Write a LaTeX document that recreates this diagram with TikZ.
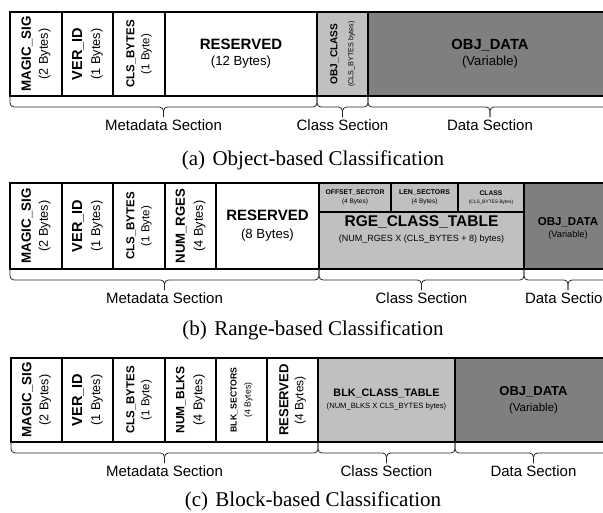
\documentclass[tikz,border=0pt]{standalone}
\usepackage{fontspec}
\setmainfont{Liberation Serif}
\setsansfont{Liberation Sans}
\usetikzlibrary{calc}
\definecolor{clsgray}{HTML}{C0C0C0}
\definecolor{datgray}{HTML}{7F7F7F}
\newcommand\fsz[2]{\fontsize{#1}{#2}\selectfont}
\tikzset{
  fld/.style={draw=black, line width=1.2pt, inner sep=0pt, outer sep=0pt, anchor=north west},
  vt/.style={rotate=90, align=center, font=\sffamily\fsz{12}{#1}, inner sep=0pt},
  ht/.style={align=center, font=\sffamily\fsz{12}{#1}, inner sep=0pt},
  brc/.style={draw=black!85, line width=0.8pt, rounded corners=4pt},
  seclabel/.style={anchor=base, font=\sffamily\fsz{15}{18}, inner sep=0pt},
  captext/.style={anchor=base, font=\rmfamily\fsz{21}{24}, inner sep=0pt}
}
% box: name, x1, x2, y1, y2, fill
\newcommand\fld[6]{\node[fld, fill=#6, minimum width={(#3-#2)*1pt}, minimum height={(#5-#4)*1pt}] (#1) at (#2,#4) {};}
% two-line text: bold size, bold text, regular size, regular text
\newcommand\tl[4]{{\fsz{#1}{#1}\bfseries #2}\\{\fsz{#3}{#3}#4}}
% brace: start, end, label name, label text
\newcommand\sbrace[4]{%
  \draw[brc] (#1) -- ++(0,11) -- ($(#1)!.5!(#2)+(0,11)$) -- ($(#1)!.5!(#2)+(0,21)$);
  \draw[brc] (#2) -- ++(0,11) -- ($(#1)!.5!(#2)+(0,11)$) -- ($(#1)!.5!(#2)+(0,21)$);
  \node[seclabel] (#3) at ($(#1)!.5!(#2)+(0,34)$) {#4};}
\begin{document}
\begin{tikzpicture}[x=1pt,y=-1pt]
\useasboundingbox (0,0) rectangle (603,512);
\clip (0,0) rectangle (603,512);
% ---------------- (a) ----------------
\fld{a1}{10}{62}{12}{96}{white}
\fld{a2}{62}{113}{12}{96}{white}
\fld{a3}{113}{165}{12}{96}{white}
\fld{a4}{165}{317}{12}{96}{white}
\fld{a5}{317}{368}{12}{96}{clsgray}
\fld{a6}{368}{612}{12}{96}{datgray}
\node[vt=17] (a1t) at (a1.center) {\tl{13.4}{MAGIC\_SIG}{12.7}{(2 Bytes)}};
\node[vt=18] (a2t) at (a2.center) {\tl{14.5}{VER\_ID}{12.7}{(1 Bytes)}};
\node[vt=15] (a3t) at (a3.center) {\tl{11.5}{CLS\_BYTES}{11.5}{(1 Byte)}};
\node[ht=16] (a4t) at (a4.center) {\tl{15}{RESERVED}{13.2}{(12 Bytes)}};
\node[vt=16] (a5t) at (a5.center) {\tl{10.1}{OBJ\_CLASS}{7.2}{(CLS\_BYTES bytes)}};
\node[ht=16] (a6t) at (a6.center) {\tl{14.7}{OBJ\_DATA}{13.1}{(Variable)}};
\sbrace{a1.south west}{a4.south east}{a7}{Metadata Section}
\sbrace{a5.south west}{a5.south east}{a8}{Class Section}
\sbrace{a6.south west}{a6.south east}{a9}{Data Section}
\node[captext] (capa) at (313,165) {(a)\hspace{0.35em}Object-based Classification};
% ---------------- (b) ----------------
\fld{b1}{10}{62}{183}{269}{white}
\fld{b2}{62}{113}{183}{269}{white}
\fld{b3}{113}{165}{183}{269}{white}
\fld{b4}{165}{216}{183}{269}{white}
\fld{b5}{216}{319}{183}{269}{white}
\fld{b6}{319}{524}{183}{269}{clsgray}
\fld{b6a}{319}{391}{183}{212}{clsgray}
\fld{b6b}{391}{458}{183}{212}{clsgray}
\fld{b6c}{458}{524}{183}{212}{clsgray}
\fld{b7}{524}{612}{183}{269}{datgray}
\node[vt=17] (b1t) at (b1.center) {\tl{13.4}{MAGIC\_SIG}{12.7}{(2 Bytes)}};
\node[vt=18] (b2t) at (b2.center) {\tl{14.5}{VER\_ID}{12.7}{(1 Bytes)}};
\node[vt=15] (b3t) at (b3.center) {\tl{11.5}{CLS\_BYTES}{11.5}{(1 Byte)}};
\node[vt=18] (b4t) at (b4.center) {\tl{13.2}{NUM\_RGES}{12.7}{(4 Bytes)}};
\node[ht=18] (b5t) at (b5.center) {\tl{15}{RESERVED}{13.2}{(8 Bytes)}};
\node[ht=9] (b6at) at (b6a.center) {\tl{6.8}{OFFSET\_SECTOR}{6.5}{(4 Bytes)}};
\node[ht=9] (b6bt) at (b6b.center) {\tl{6.9}{LEN\_SECTORS}{6.5}{(4 Bytes)}};
\node[ht=8] (b6ct) at (b6c.center) {\tl{6.7}{CLASS}{4.8}{(CLS\_BYTES Bytes)}};
\node[ht=15] (b6t) at (421.5,229.5) {\tl{15.5}{RGE\_CLASS\_TABLE}{9}{(NUM\_RGES X (CLS\_BYTES + 8) bytes)}};
\node[ht=12] (b7t) at (568,228) {\tl{11.5}{OBJ\_DATA}{9.2}{(Variable)}};
\sbrace{b1.south west}{b5.south east}{b8}{Metadata Section}
\sbrace{b6.south west}{b6.south east}{b9}{Class Section}
\sbrace{b7.south west}{b7.south east}{b10}{Data Section}
\node[captext] (capb) at (313,335) {(b)\hspace{0.35em}Range-based Classification};
% ---------------- (c) ----------------
\fld{c1}{11}{62}{358}{442}{white}
\fld{c2}{62}{113}{358}{442}{white}
\fld{c3}{113}{165}{358}{442}{white}
\fld{c4}{165}{216}{358}{442}{white}
\fld{c5}{216}{267}{358}{442}{white}
\fld{c6}{267}{318}{358}{442}{white}
\fld{c7}{318}{455}{358}{442}{clsgray}
\fld{c8}{455}{612}{358}{442}{datgray}
\node[vt=17] (c1t) at (c1.center) {\tl{13.4}{MAGIC\_SIG}{12.7}{(2 Bytes)}};
\node[vt=18] (c2t) at (c2.center) {\tl{14.5}{VER\_ID}{12.7}{(1 Bytes)}};
\node[vt=15] (c3t) at (c3.center) {\tl{11.5}{CLS\_BYTES}{11.5}{(1 Byte)}};
\node[vt=18] (c4t) at (c4.center) {\tl{12}{NUM\_BLKS}{12.7}{(4 Bytes)}};
\node[vt=14] (c5t) at (c5.center) {\tl{8.7}{BLK\_SECTORS}{8.7}{(4 Bytes)}};
\node[vt=15] (c6t) at (c6.center) {\tl{13.1}{RESERVED}{12}{(4 Bytes)}};
\node[ht=12] (c7t) at (c7.center) {\tl{10.8}{BLK\_CLASS\_TABLE}{7.6}{(NUM\_BLKS X CLS\_BYTES bytes)}};
\node[ht=16] (c8t) at (c8.center) {\tl{13}{OBJ\_DATA}{11.5}{(Variable)}};
\sbrace{c1.south west}{c6.south east}{c9}{Metadata Section}
\sbrace{c7.south west}{c7.south east}{c10}{Class Section}
\sbrace{c8.south west}{c8.south east}{c11}{Data Section}
\node[captext] (capc) at (313,506) {(c)\hspace{0.35em}Block-based Classification};
\end{tikzpicture}
\end{document}
